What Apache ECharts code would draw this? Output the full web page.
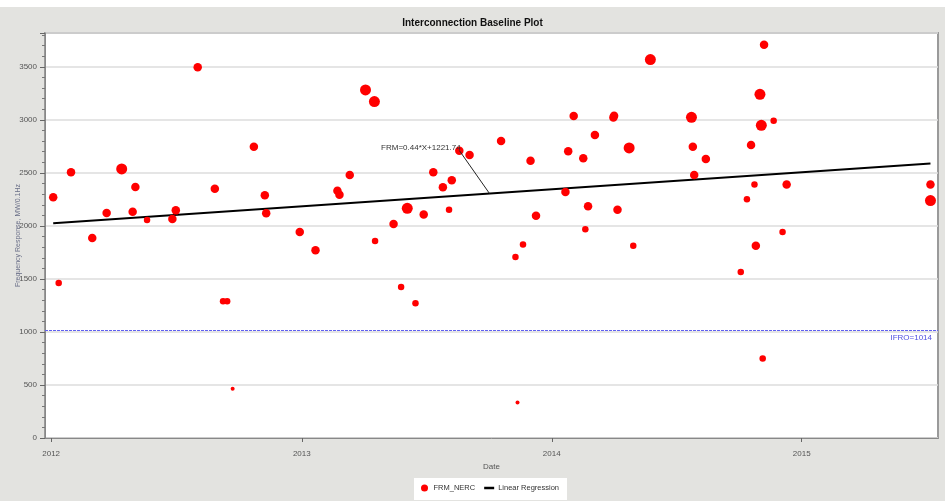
<!DOCTYPE html>
<html>
<head>
<meta charset="utf-8">
<script src="https://cdn.jsdelivr.net/npm/echarts@6/dist/echarts.min.js"></script>
<style>
  html, body { margin: 0; padding: 0; background: #ffffff; }
  #chart { width: 945px; height: 501px; }
</style>
</head>
<body>
<div id="chart"></div>
<script>
// Frequency response events (FRM_NERC), MW/0.1Hz
const eventDates = [
  '2012-01-04','2012-01-12','2012-01-30','2012-03-01','2012-03-22','2012-04-13','2012-04-29','2012-05-03',
  '2012-05-20','2012-06-26','2012-07-01','2012-08-02','2012-08-27','2012-09-08','2012-09-14','2012-09-22',
  '2012-10-23','2012-11-08','2012-11-10','2012-12-29','2013-01-21','2013-02-22','2013-02-25','2013-03-12',
  '2013-04-04','2013-04-17','2013-04-18','2013-05-15','2013-05-26','2013-06-04','2013-06-16','2013-06-28',
  '2013-07-12','2013-07-26','2013-08-04','2013-08-08','2013-08-19','2013-09-03','2013-10-19','2013-11-09',
  '2013-11-12','2013-11-20','2013-12-01','2013-12-09','2014-01-21','2014-01-25','2014-02-02','2014-02-16',
  '2014-02-19','2014-02-23','2014-03-05','2014-04-01','2014-04-02','2014-04-07','2014-04-24','2014-04-30',
  '2014-05-25','2014-07-24','2014-07-26','2014-07-28','2014-08-14','2014-10-04','2014-10-13','2014-10-19',
  '2014-10-24','2014-10-26','2014-11-01','2014-11-03','2014-11-05','2014-11-07','2014-11-21','2014-12-04',
  '2014-12-10','2015-07-08','2015-07-08'
];
const frmValues = [
  2270, 1462, 2506, 1887, 2123, 2538, 2135, 2368,
  2057, 2066, 2147, 3496, 2352, 1289, 1289, 465,
  2748, 2289, 2119, 1943, 1770, 2333, 2295, 2481,
  3283, 3173, 1858, 2019, 1424, 2166, 1270, 2109,
  2506, 2364, 2154, 2430, 2710, 2670, 2802, 1708,
  336, 1826, 2616, 2097, 2321, 2704, 3038, 2638,
  1968, 2185, 2858, 3022, 3040, 2154, 2736, 1814,
  3569, 3025, 2748, 2481, 2632, 1566, 2251, 2764,
  2392, 1814, 3242, 2949, 751, 3710, 2993, 1943,
  2390, 2390, 2239
];
// Event weight class (1 = lightest .. 4 = heaviest)
const eventWeight = [
  3, 2, 3, 3, 3, 4, 3, 3,
  2, 3, 3, 3, 3, 2, 2, 1,
  3, 3, 3, 3, 3, 3, 3, 3,
  4, 4, 2, 3, 2, 4, 2, 3,
  3, 3, 2, 3, 3, 3, 3, 2,
  1, 2, 3, 3, 3, 3, 3, 3,
  2, 3, 3, 3, 3, 3, 4, 2,
  4, 4, 3, 3, 3, 2, 2, 3,
  2, 3, 4, 4, 2, 3, 2, 2,
  3, 3, 4
];

// Linear regression FRM = slope * X + intercept, X = days since epoch
const regSlope = 0.44;
const regIntercept = 1221.7;
const regEpoch = '2007-01-01';
const regLabel = 'FRM=0.44*X+1221.74';
const arrowFrom = ['2013-08-19', 2712];
const arrowToDate = '2013-10-02';

// Interconnection frequency response obligation
const ifroValue = 1014;

// Axis ticks
const yearTicks = ['2012-01-01', '2013-01-01', '2014-01-01', '2015-01-01'];
const xRange = ['2011-12-23', '2015-07-19'];
const yMax = 3820;

const DAY = 86400000;
function ts(s) { const p = s.split('-').map(Number); return Date.UTC(p[0], p[1] - 1, p[2]); }
function regAt(s) { return regSlope * Math.round((ts(s) - ts(regEpoch)) / DAY) + regIntercept; }

const sizeByWeight = { 1: 4, 2: 6.5, 3: 8.5, 4: 11 };
const scatterData = eventDates.map((d, i) => ({
  value: [ts(d), frmValues[i]],
  symbolSize: sizeByWeight[eventWeight[i]]
}));
const firstDate = eventDates[0];
const lastDate = eventDates[eventDates.length - 1];
const regData = [[ts(firstDate), regAt(firstDate)], [ts(lastDate), regAt(lastDate)]];
const yearTickValues = yearTicks.map(ts);

const chart = echarts.init(document.getElementById('chart'), null, { renderer: 'canvas' });
const txt = '#555555';
const narrow = 'Liberation Sans, Arial, sans-serif';
chart.setOption({
  animation: false,
  backgroundColor: '#e3e3e0',
  textStyle: { fontFamily: narrow },
  graphic: [
    { type: 'rect', left: 0, top: 0, shape: { width: 945, height: 7 }, style: { fill: '#ffffff' }, z: -1 },
    { type: 'rect', left: 414, top: 478, shape: { width: 153, height: 22 }, style: { fill: '#ffffff' }, z: -1 }
  ],
  title: {
    text: 'Interconnection Baseline Plot',
    left: 'center',
    top: 13,
    textStyle: { fontFamily: narrow, fontSize: 10, fontWeight: 'bold', color: '#111' }
  },
  legend: {
    top: 484,
    left: 421,
    padding: 0,
    itemGap: 9,
    itemWidth: 10,
    itemHeight: 7,
    textStyle: { fontSize: 7.5, color: '#333', fontFamily: narrow, padding: [0, 0, 0, -1] },
    data: [
      { name: 'FRM_NERC', icon: 'circle' },
      { name: 'Linear Regression', icon: 'path://M0,0H12V3H0Z', itemStyle: { color: '#000' } }
    ]
  },
  grid: {
    left: 45, right: 7, top: 33, bottom: 63,
    outerBoundsMode: 'none',
    containLabel: false,
    show: true,
    backgroundColor: '#ffffff',
    borderColor: '#9a9a9a',
    borderWidth: 2
  },
  xAxis: {
    type: 'value',
    min: ts(xRange[0]),
    max: ts(xRange[1]),
    name: 'Date',
    nameLocation: 'middle',
    nameGap: 25,
    nameTextStyle: { fontSize: 8, color: txt },
    axisLine: { show: true, onZero: false, lineStyle: { color: '#888', width: 1 } },
    axisTick: { show: true, length: 4, lineStyle: { color: '#666' }, customValues: yearTickValues },
    axisLabel: {
      fontSize: 8, color: txt, margin: 12,
      customValues: yearTickValues,
      formatter: v => String(new Date(v).getUTCFullYear())
    },
    splitLine: { show: false }
  },
  yAxis: {
    type: 'value',
    min: 0,
    max: yMax,
    interval: 500,
    name: 'Frequency Response, MW/0.1Hz',
    nameLocation: 'middle',
    nameGap: 23,
    nameMoveOverlap: false,
    nameTextStyle: { fontSize: 7, color: '#6a6f88' },
    axisLine: { show: true, lineStyle: { color: '#888' } },
    axisTick: { show: true, length: 5, lineStyle: { color: '#666' } },
    minorTick: { show: true, splitNumber: 5, length: 3, lineStyle: { color: '#777' } },
    axisLabel: { fontSize: 8, color: txt, margin: 8, showMaxLabel: false, formatter: v => String(v) },
    splitLine: { show: true, lineStyle: { color: '#dcdcdc', width: 1.5 } }
  },
  series: [
    {
      name: 'FRM_NERC',
      type: 'scatter',
      data: scatterData,
      itemStyle: { color: '#ff0000', opacity: 1 },
      z: 4,
      markLine: {
        silent: true,
        symbol: ['none', 'none'],
        lineStyle: { color: '#6060f0', type: [3, 1], width: 1 },
        label: {
          show: true,
          position: 'insideEndBottom',
          formatter: 'IFRO=' + ifroValue,
          color: '#5050e0',
          fontSize: 8,
          distance: [6, 3]
        },
        data: [{ yAxis: ifroValue }]
      }
    },
    {
      name: 'Linear Regression',
      type: 'line',
      data: regData,
      showSymbol: false,
      symbol: 'none',
      lineStyle: { color: '#000', width: 2 },
      itemStyle: { color: '#000' },
      z: 3,
      markLine: {
        silent: true,
        symbol: ['none', 'arrow'],
        symbolSize: [0, 6],
        lineStyle: { color: '#222', width: 1, type: 'solid' },
        label: { show: false },
        data: [[
          { coord: [ts(arrowFrom[0]), arrowFrom[1]] },
          { coord: [ts(arrowToDate), regAt(arrowToDate)] }
        ]]
      },
      markPoint: {
        silent: true,
        symbol: 'circle',
        symbolSize: 0,
        label: {
          show: true,
          position: 'left',
          distance: 0,
          formatter: regLabel,
          color: '#333',
          fontSize: 8,
          fontFamily: narrow
        },
        data: [{ coord: [ts(arrowFrom[0]) + 2 * DAY, 2740] }]
      }
    }
  ]
});
</script>
</body>
</html>
